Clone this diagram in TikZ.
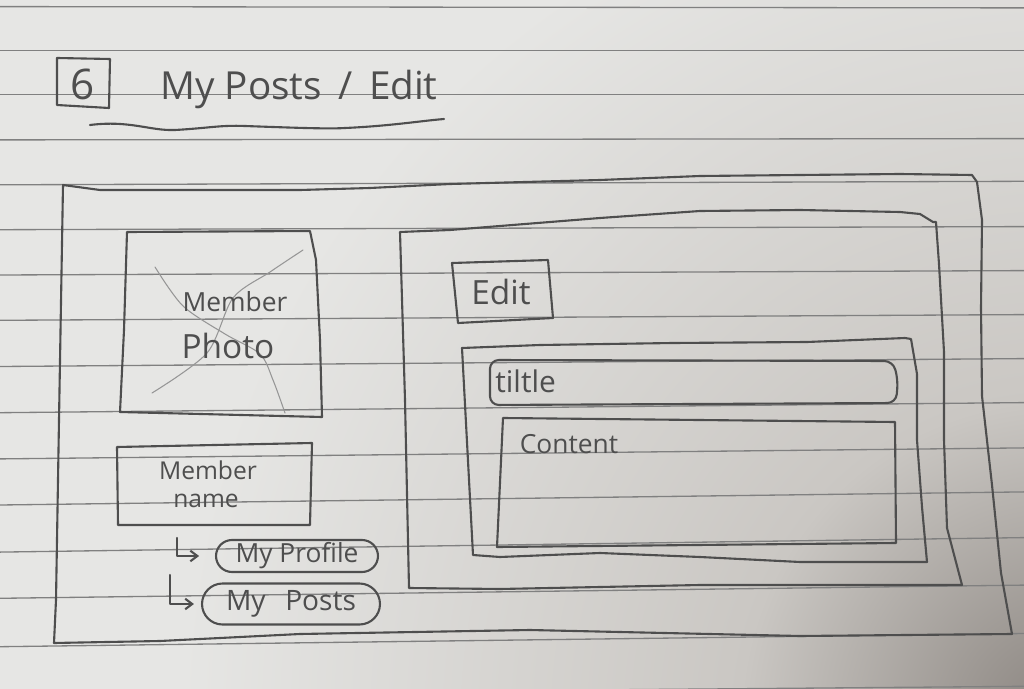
\documentclass[tikz,border=0pt]{standalone}
\usepackage{fontspec}
\setmainfont{Open Sans}
\usetikzlibrary{arrows.meta,shapes.misc}

% paper and pencil tones
\definecolor{paperlight}{RGB}{230,230,228}
\definecolor{papermid}{RGB}{202,199,195}
\definecolor{paperdark}{RGB}{138,132,127}
\definecolor{rulegray}{RGB}{128,128,128}
\definecolor{lead}{RGB}{78,78,78}
\definecolor{leadfaint}{RGB}{150,150,150}

% darker corner of the sheet
\pgfdeclareradialshading{cornershade}{\pgfpoint{0bp}{0bp}}{%
  color(0bp)=(paperdark); color(8bp)=(papermid); color(22bp)=(paperlight); color(50bp)=(paperlight)}

\newcommand{\penfont}[1]{\fontsize{#1pt}{#1pt}\selectfont}

\begin{document}
\begin{tikzpicture}[x=0.02cm,y=-0.02cm,
  pencil/.style={draw=lead,line width=1.2pt,line join=round,line cap=round},
  faint/.style={draw=leadfaint,line width=0.6pt,line cap=round},
  label/.style={text=lead,inner sep=0pt},
  pill/.style={draw=lead,line width=1.2pt,rounded rectangle,inner sep=0pt,text=lead},
  ruled/.style={draw=rulegray,line width=0.75pt},
  linkarrow/.style={pencil,-{Straight Barb[length=4pt,width=6pt]}}]

\useasboundingbox (0,0) rectangle (1024,689);

% sheet
\fill[paperlight] (0,0) rectangle (1024,689);
\begin{scope}
  \clip (0,0) rectangle (1024,689);
  \shade[shading=cornershade] (60,-280) rectangle (2060,1720);
  % ruled lines
  \foreach \l/\r in {6.6/7.9, 50.6/50.6, 94.6/94.6, 139.9/138.6, 184.8/181.3,
                     229.7/226.6, 275/270.6, 320.3/314.6, 366.5/358.6, 412.7/402.6,
                     458.9/447.9, 505/491.9, 552.1/537.6, 598.3/585.1, 646.7/633.5, 695/686.3}
    \draw[ruled] (0,\l) -- (1024,\r);
\end{scope}

% heading
\draw[pencil] (57,58) -- (110,59) -- (109,108) -- (57,105) -- cycle;
\node[label] (num) at (83,84) {\penfont{24}6};
\node[label,anchor=base] (heading) at (299,100) {\penfont{22}My Posts \,/\, Edit};
\draw[pencil] (90,125) .. controls (130,120) and (150,131) .. (175,130)
  .. controls (210,128) and (220,125) .. (245,126)
  .. controls (300,128) and (330,129) .. (345,128)
  .. controls (390,126) and (420,121) .. (444,119);

% page frame
\draw[pencil] (63,185) -- (100,190) -- (300,190) -- (370,188) -- (450,184) -- (600,180)
  -- (700,176) -- (900,174) -- (972,175) -- (977,182) -- (982,220) -- (981,308)
  -- (982,396) -- (992,485) -- (1001,573) -- (1012,634) -- (800,636) -- (530,630)
  -- (300,634) -- (160,641) -- (54,643) -- (56,600) -- (59,420) -- cycle;

% member photo placeholder
\draw[pencil] (127,232) -- (310,231) -- (316,260) -- (320,340) -- (322,417) -- (120,412)
  -- (124,330) -- cycle;
\draw[faint] plot[smooth] coordinates {(155,267) (183,306) (225,334) (260,354) (273,380) (285,413)};
\draw[faint] plot[smooth] coordinates {(303,250) (270,272) (233,298) (207,353) (152,393)};
\node[label] (photo1) at (235,302) {\penfont{15}Member};
\node[label] (photo2) at (228,346) {\penfont{19}Photo};

% member name
\draw[pencil] (117,447) -- (312,443) -- (310,525) -- (118,525) -- cycle;
\node[label] (name1) at (208,470) {\penfont{14}Member};
\node[label] (name2) at (206,501) {\penfont{14}name};

% member links
\node[pill,minimum width=3.24cm,minimum height=0.64cm] (prof) at (297,556) {\penfont{15}My Profile};
\node[pill,minimum width=3.56cm,minimum height=0.82cm] (posts) at (291,604) {\penfont{16}My\hspace{0.7em}Posts};
\coordinate (prof-src) at (177,538);
\coordinate (posts-src) at (170,575);
\draw[linkarrow,shorten >=9pt] (prof-src) |- (prof.west);
\draw[linkarrow,shorten >=4pt] (posts-src) |- (posts.west);

% editing panel
\draw[pencil] (400,232) -- (450,230) -- (600,218) -- (700,211) -- (800,210) -- (900,212)
  -- (920,214) -- (933,222) -- (936,222) -- (939,264) -- (944,352) -- (944,440)
  -- (947,528) -- (962,585) -- (700,585) -- (500,589) -- (409,588) -- (405,400) -- cycle;

% edit button
\draw[pencil] (452,263) -- (548,260) -- (553,318) -- (458,323) -- cycle;
\node[label] (edit) at (501,292) {\penfont{19}Edit};

% form
\draw[pencil] (462,348) -- (540,345) -- (673,343) -- (807,342) -- (905,338) -- (911,339)
  -- (917,374) -- (917,440) -- (922,507) -- (927,562) -- (800,562) -- (700,557)
  -- (600,553) -- (500,557) -- (473,555) -- cycle;
\draw[pencil,rounded corners=5pt] (490,360) -- (893,361) -- (898,380) -- (896,403) -- (490,405) -- cycle;
\node[label,anchor=west] (titlefield) at (495,381) {\penfont{17}tiltle};
\draw[pencil] (503,418) -- (895,422) -- (896,543) -- (497,547) -- cycle;
\node[label] (contentfield) at (569,444) {\penfont{15}Content};

\end{tikzpicture}
\end{document}
